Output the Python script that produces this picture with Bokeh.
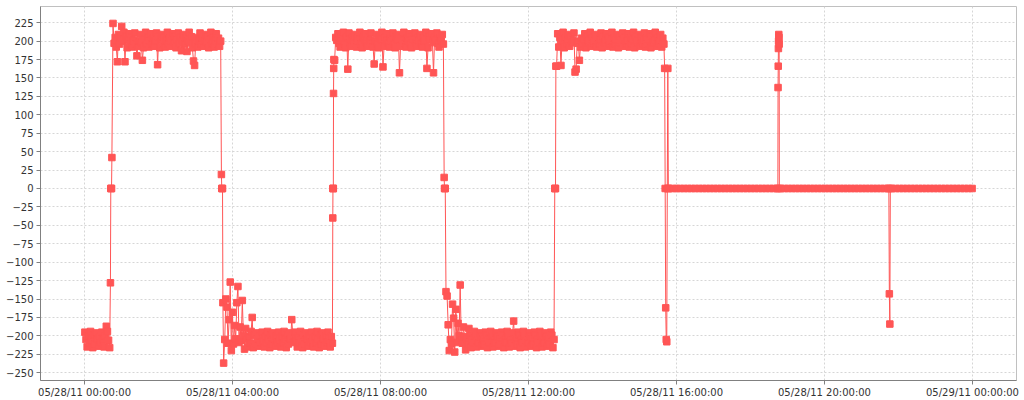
import numpy as np
import pandas as pd
from bokeh.plotting import figure
from bokeh.models import FixedTicker, DatetimeTickFormatter, Range1d, ColumnDataSource
from bokeh.embed import file_html
from bokeh.resources import INLINE

BASE = pd.Timestamp("2011-05-28 00:00:00")

# Values; each run spans (start hour, end hour) after 05/28/11 00:00
bandA_vals = [-195, -205, -215, -200, -210, -194, -206, -216, -199, -211, -196, -204, -214, -201, -209,
              -195, -205, -215, -200, -187, -194, -206, -216]
trans1_vals = [-128, 0, 0, 0, 42]
bandB_vals = [224, 197, 205, 192, 172, 209, 196, 204, 220, 200,
              212, 172, 206, 191, 202, 210, 197, 205, 192, 201,
              211, 196, 180, 193, 200, 209, 198, 174, 191, 202,
              212, 197, 205, 192, 201, 210, 196, 204, 193, 200,
              211, 168, 206, 191, 202, 209, 197, 205, 192, 201,
              212, 196, 204, 193, 200, 210, 198, 206, 191, 202,
              211, 197, 205, 187, 201, 209, 196, 204, 186, 200,
              212, 198, 206, 191, 173, 167, 197, 205, 192, 201,
              211, 196, 204, 193, 200, 209, 198, 206, 191, 202,
              212, 197, 205, 192, 201, 210, 196, 204, 193, 200]
trans2_vals = [19, 0, 0, 0, -155]
bandC_vals = [-237, -205, -150, -161, -210, -178, -127, -220, -168, -211,
              -186, -204, -155, -133, -209, -188, -206, -152, -200, -218,
              -190, -205, -215, -201, -210, -194, -175, -216, -199, -211,
              -196, -204, -214, -200, -209, -195, -206, -215, -201, -210,
              -194, -205, -216, -199, -211, -196, -204, -214, -200, -209,
              -195, -206, -215, -201, -210, -194, -205, -216, -199, -211,
              -196, -204, -178, -200, -209, -195, -206, -215, -201, -210,
              -194, -205, -216, -199, -211, -196, -204, -214, -200, -209,
              -195, -206, -215, -201, -210, -194, -205, -216, -199, -211,
              -196, -204, -214, -200, -209, -195, -206, -215, -201, -210]
trans3_vals = [-40, 0, 0, 0, 129, 163, 175]
bandD_vals = [174, 205, 201, 210, 197, 192, 204, 200, 212, 196,
              191, 206, 162, 211, 198, 193, 205, 201, 209, 197,
              192, 204, 200, 212, 196, 191, 206, 202, 210, 198,
              193, 205, 201, 211, 197, 192, 169, 200, 209, 196,
              191, 206, 202, 212, 165, 193, 205, 201, 210, 197,
              192, 204, 200, 211, 196, 191, 206, 202, 209, 157,
              193, 205, 201, 212, 197, 192, 204, 200, 210, 196,
              191, 206, 202, 211, 198, 193, 205, 201, 209, 197,
              192, 204, 200, 212, 163, 191, 206, 202, 210, 198,
              157, 205, 201, 211, 197, 192, 204, 200, 209, 196]
trans4_vals = [15, 0, 0, 0]
bandE_vals = [-140, -146, -185, -220, -205, -211, -157, -176, -222, -164,
              -209, -183, -200, -131, -206, -210, -188, -201, -219, -204,
              -211, -190, -199, -216, -205, -209, -194, -200, -215, -206,
              -210, -196, -201, -214, -204, -211, -195, -199, -216, -205,
              -209, -194, -200, -215, -206, -210, -196, -201, -214, -204,
              -211, -195, -199, -216, -205, -209, -194, -200, -215, -206,
              -210, -196, -180, -214, -204, -211, -195, -199, -216, -205,
              -209, -194, -200, -215, -206, -210, -196, -201, -214, -204,
              -211, -195, -199, -216, -205, -209, -194, -200, -215, -206,
              -210, -196, -201, -214, -204, -211, -195, -199, -216, -205]
trans5_vals = [0, 0, 0, 166]
bandF_vals = [166, 210, 192, 205, 167, 200, 212, 191, 204, 196,
              202, 209, 193, 206, 198, 201, 211, 158, 162, 197,
              200, 174, 192, 204, 196, 202, 210, 191, 206, 198,
              201, 212, 193, 205, 197, 200, 209, 192, 204, 196,
              202, 211, 191, 206, 198, 201, 210, 193, 205, 197,
              200, 212, 192, 204, 196, 202, 209, 191, 206, 198,
              201, 211, 193, 205, 197, 200, 210, 192, 204, 196,
              202, 212, 191, 206, 198, 201, 209, 193, 205, 197,
              200, 211, 192, 204, 196, 202, 210, 191, 206, 198,
              201, 212, 193, 205, 197, 200, 209, 192, 204, 196]
trans6_vals = [163, 0, -162, -205, -208, 0, 163, 0]
zero1_vals = [0, 0, 0, 0, 0, 0, 0, 0, 0, 0, 0, 0, 0, 0, 0, 0, 0, 0, 0, 0,
              0, 0, 0, 0, 0, 0, 0, 0, 0, 0]
spike1_vals = [0, 137, 166, 190, 200, 209, 205, 196, 0]
zero2_vals = [0, 0, 0, 0, 0, 0, 0, 0, 0, 0, 0, 0, 0, 0, 0, 0, 0, 0, 0, 0,
              0, 0, 0, 0, 0, 0, 0, 0, 0, 0]
spike2_vals = [0, -143, -184, 0]
zero3_vals = [0, 0, 0, 0, 0, 0, 0, 0, 0, 0, 0, 0, 0, 0, 0, 0, 0, 0, 0, 0, 0, 0]

runs = [
    (0.01, 0.68, bandA_vals),
    (0.70, 0.74, trans1_vals),
    (0.77, 3.68, bandB_vals),
    (3.70, 3.74, trans2_vals),
    (3.76, 6.70, bandC_vals),
    (6.71, 6.74, trans3_vals),
    (6.76, 9.70, bandD_vals),
    (9.72, 9.75, trans4_vals),
    (9.77, 12.69, bandE_vals),
    (12.71, 12.74, trans5_vals),
    (12.76, 15.66, bandF_vals),
    (15.68, 15.78, trans6_vals),
    (15.80, 18.72, zero1_vals),
    (18.74, 18.78, spike1_vals),
    (18.82, 21.72, zero2_vals),
    (21.74, 21.78, spike2_vals),
    (21.82, 23.99, zero3_vals),
]

hours = []
values = []
for t0, t1, vals in runs:
    hours.extend(np.linspace(t0, t1, len(vals)).tolist())
    values.extend(vals)

times = [BASE + pd.Timedelta(hours=h) for h in hours]
src = ColumnDataSource(dict(t=times, v=values))

y_ticks = list(range(-250, 226, 25))
x_tick_hours = [0, 4, 8, 12, 16, 20, 24]

def ms(h):
    return (BASE + pd.Timedelta(hours=h)).value / 1e6

p = figure(frame_width=976, frame_height=374, output_backend="svg", toolbar_location=None,
           x_axis_type="datetime",
           x_range=Range1d(ms(-1.19), ms(25.19)), y_range=Range1d(-260.6, 247.0),
           min_border_left=40, min_border_right=6, min_border_top=6, min_border_bottom=19)
p.background_fill_color = "white"
p.border_fill_color = "white"
p.outline_line_color = "#c0c0c0"
p.outline_line_width = 1

RED = "#FF5555"
p.line("t", "v", source=src, line_color=RED, line_width=1)
p.scatter("t", "v", source=src, marker="square", size=6.5, fill_color=RED, line_color=RED)

fmt = "%m/%d/%y %H:%M:%S"
p.xaxis.ticker = FixedTicker(ticks=[ms(h) for h in x_tick_hours])
p.xaxis.formatter = DatetimeTickFormatter(microseconds=fmt, milliseconds=fmt, seconds=fmt, minsec=fmt,
                                          minutes=fmt, hourmin=fmt, hours=fmt, days=fmt, months=fmt, years=fmt,
                                          strip_leading_zeros=False)
p.yaxis.ticker = FixedTicker(ticks=y_ticks)

for ax in (p.xaxis[0], p.yaxis[0]):
    ax.axis_line_color = "#808080"
    ax.major_tick_line_color = "#808080"
    ax.major_tick_out = 4
    ax.major_tick_in = 0
    ax.minor_tick_line_color = None
    ax.major_label_text_font = "DejaVu Sans"
    ax.major_label_text_font_size = "10px"
    ax.major_label_text_color = "#333333"
p.yaxis.major_label_standoff = 3
p.xaxis.major_label_standoff = 2

for g in (p.xgrid[0], p.ygrid[0]):
    g.grid_line_color = "#d6d6d6"
    g.grid_line_dash = "2 2"
    g.grid_line_width = 1

open("out.html", "w").write(file_html(p, INLINE))
